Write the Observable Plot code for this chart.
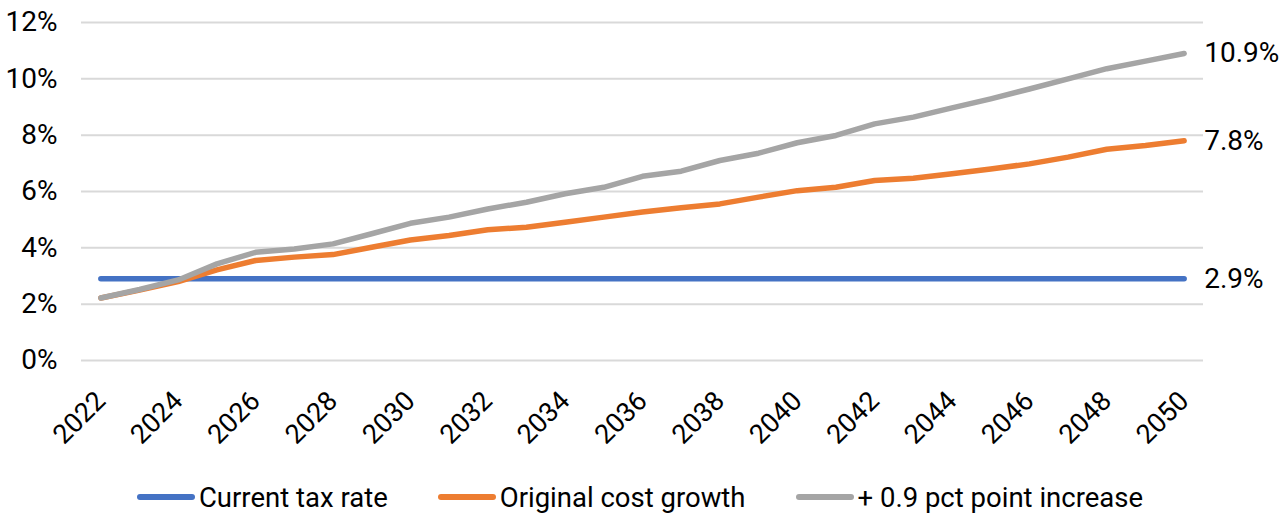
<!DOCTYPE html>
<html>
<head>
<meta charset="utf-8">
<script src="https://cdn.jsdelivr.net/npm/d3@7"></script>
<script src="https://cdn.jsdelivr.net/npm/@observablehq/plot@0.6"></script>
<style>
  html, body { margin: 0; padding: 0; background: #fff; }
  body { width: 1280px; height: 514px; overflow: hidden; font-family: Roboto, sans-serif; position: relative; }
  #chart svg { overflow: visible; }
  #legend { position: absolute; left: 0; top: 470px; width: 1280px; display: flex; justify-content: center; align-items: center; height: 54px; font-size: 27.5px; color: #000; gap: 50px; }
  .item { display: flex; align-items: center; }
  .sw { width: 58px; height: 6px; border-radius: 3px; margin-right: 4px; }
</style>
</head>
<body>
<div id="chart"></div>
<div id="legend"></div>
<script>
const years = d3.range(2022, 2051);
const currentTaxRate = [2.9,2.9,2.9,2.9,2.9,2.9,2.9,2.9,2.9,2.9,2.9,2.9,2.9,2.9,2.9,2.9,2.9,2.9,2.9,2.9,2.9,2.9,2.9,2.9,2.9,2.9,2.9,2.9,2.9];
const originalCostGrowth = [2.22,2.5,2.8,3.22,3.55,3.67,3.76,4.02,4.28,4.44,4.64,4.73,4.91,5.09,5.27,5.42,5.56,5.8,6.03,6.15,6.39,6.47,6.63,6.8,6.98,7.22,7.5,7.63,7.8];
const plusPointIncrease = [2.22,2.52,2.86,3.43,3.84,3.96,4.14,4.5,4.87,5.09,5.38,5.62,5.92,6.15,6.54,6.72,7.1,7.36,7.73,7.99,8.4,8.64,8.97,9.29,9.64,10.0,10.36,10.63,10.9];
const seriesNames = ["Current tax rate", "Original cost growth", "+ 0.9 pct point increase"];
const seriesColors = ["#4472C4", "#ED7D31", "#A5A5A5"];
const endLabels = ["2.9%", "7.8%", "10.9%"];
const yTicks = [0, 2, 4, 6, 8, 10, 12];
const xTicks = d3.range(2022, 2051, 2);

const seriesValues = [currentTaxRate, originalCostGrowth, plusPointIncrease];
const rows = seriesNames.flatMap((name, i) => years.map((yr, j) => ({series: name, year: yr, value: seriesValues[i][j]})));
const lastRows = seriesNames.map((name, i) => ({series: name, year: years[years.length - 1], value: seriesValues[i][years.length - 1], label: endLabels[i]}));

const chart = Plot.plot({
  width: 1280,
  height: 465,
  marginLeft: 81,
  marginRight: 77,
  marginTop: 22,
  marginBottom: 105,
  style: {fontFamily: "Roboto, sans-serif", background: "#fff", color: "#000"},
  x: {domain: [2021.5, 2050.5], axis: null, label: null},
  y: {domain: [0, 12], axis: null, label: null},
  color: {domain: seriesNames, range: seriesColors},
  marks: [
    Plot.gridY(yTicks, {stroke: "#d9d9d9", strokeOpacity: 1, strokeWidth: 2}),
    Plot.axisY(yTicks, {tickSize: 0, tickPadding: 24, tickFormat: d => d + "%", fontSize: 28, fill: "#000", label: null}),
    Plot.axisX(xTicks, {tickSize: 0, tickPadding: 36, tickRotate: -45, tickFormat: d => String(d), fontSize: 27, fill: "#000", label: null}),
    Plot.line(rows, {x: "year", y: "value", z: "series", stroke: "series", strokeWidth: 5.5, strokeLinecap: "round", strokeLinejoin: "round"}),
    Plot.text(lastRows, {x: "year", y: "value", text: "label", textAnchor: "start", dx: 20, fontSize: 28, fill: "#000"})
  ]
});
document.getElementById("chart").appendChild(chart);

const legend = document.getElementById("legend");
seriesNames.forEach((name, i) => {
  const item = document.createElement("div");
  item.className = "item";
  const sw = document.createElement("div");
  sw.className = "sw";
  sw.style.background = seriesColors[i];
  const t = document.createElement("span");
  t.textContent = name;
  item.appendChild(sw);
  item.appendChild(t);
  legend.appendChild(item);
});
</script>
</body>
</html>
